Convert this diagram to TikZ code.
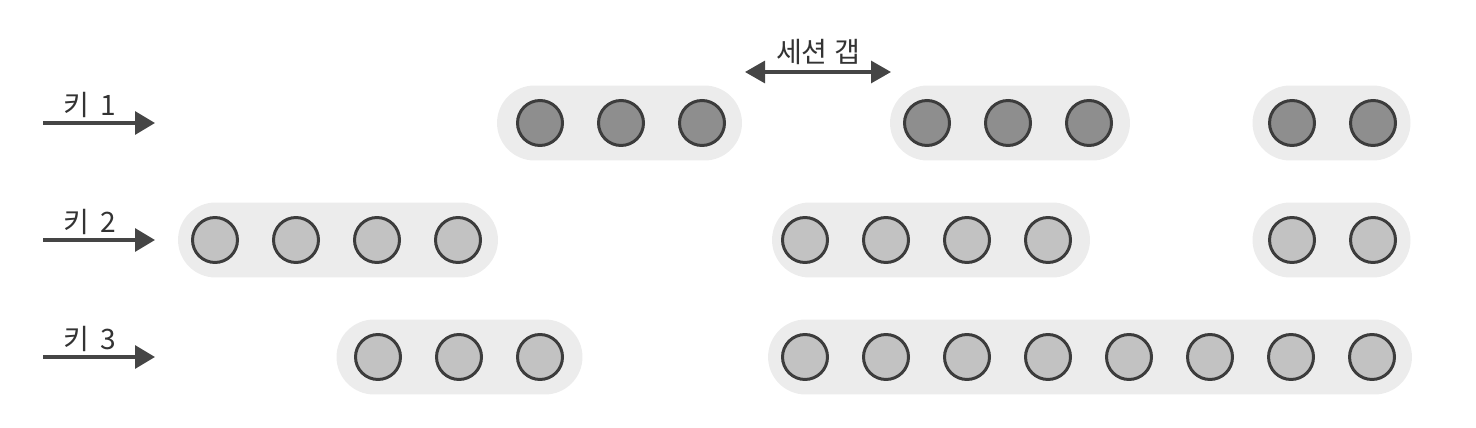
\documentclass[tikz,border=0pt]{standalone}
\usepackage{fontspec}
\setmainfont{Noto Sans CJK KR}
\usetikzlibrary{arrows.meta}
\definecolor{pillgray}{HTML}{ECECEC}
\definecolor{darkev}{HTML}{8E8E8E}
\definecolor{lightev}{HTML}{C2C2C2}
\definecolor{ringgray}{HTML}{3C3C3C}
\definecolor{arrowgray}{HTML}{454545}

\begin{document}
\begin{tikzpicture}[x=0.02cm,y=-0.02cm,
    pill/.style={rectangle, rounded corners=0.75cm, fill=pillgray, minimum height=1.5cm, inner sep=0pt},
    event/.style={circle, draw=ringgray, line width=1.7pt, minimum size=0.9cm, inner sep=0pt},
    keyarrow/.style={draw=arrowgray, line width=1.8pt, -{Triangle[length=0.4cm,width=0.46cm]}},
    gaparrow/.style={draw=arrowgray, line width=1.8pt, {Triangle[length=0.4cm,width=0.44cm]}-{Triangle[length=0.4cm,width=0.44cm]}},
    lbl/.style={font=\fontsize{16}{18}\selectfont, text=black!80, inner sep=1pt}]
  \useasboundingbox (0,0) rectangle (1476,428);

  % key streams
  \foreach\row in {1,2,3}{
      \pgfmathsetmacro\y{123+117*(\row-1)}
      \coordinate (key\row s) at (43,\y);
      \coordinate (key\row e) at (155,\y);
      \draw[keyarrow] (key\row s) -- node[lbl, above=1pt, xshift=-0.18cm] {키\,\ \row} (key\row e);
  }

  % sessions: row/group/centre/width/first x/count/fill
  \foreach\row/\g/\cx/\w/\first/\n/\col in {1/1/619.5/4.9/540/3/darkev, 1/2/1010/4.8/927/3/darkev,
      1/3/1331.5/3.16/1292/2/darkev, 2/1/338/6.4/215/4/lightev, 2/2/931/6.36/805/4/lightev,
      2/3/1331.5/3.16/1292/2/lightev, 3/1/459.5/4.92/378/3/lightev, 3/2/1090/12.88/805/8/lightev}{
      \pgfmathsetmacro\y{123+117*(\row-1)}
      \node[pill, minimum width=\w cm] (sess\row\g) at (\cx,\y) {};
      \foreach\i in {1,...,\n}{
          \pgfmathsetmacro\x{\first+81*(\i-1)}
          \node[event, fill=\col] (ev\row\g\i) at (\x,\y) {};
      }
  }

  % session gap
  \coordinate (gapl) at (745,72);
  \coordinate (gapr) at (891,72);
  \draw[gaparrow] (gapl) -- node[lbl, above=2pt] {세션 갭} (gapr);
\end{tikzpicture}
\end{document}
